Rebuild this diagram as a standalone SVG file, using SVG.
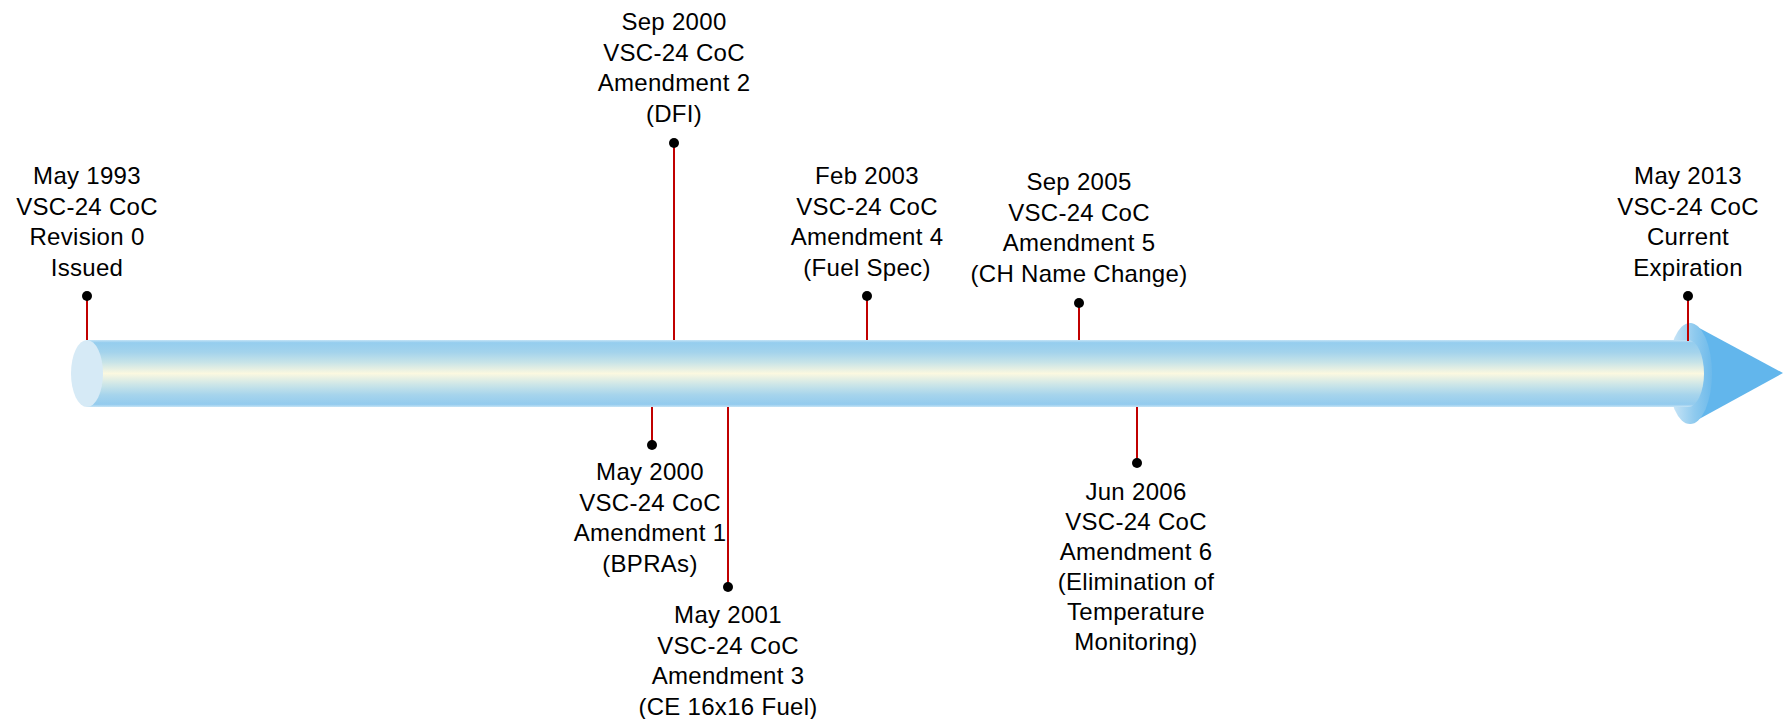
<svg xmlns="http://www.w3.org/2000/svg" width="1783" height="719" viewBox="0 0 1783 719">
<style>
text{font-family:"Liberation Sans",Arial,sans-serif;font-size:24px;letter-spacing:0.3px;fill:#000;text-anchor:middle}
.ln{stroke:#c00000;stroke-width:2;fill:none}
.dot{fill:#000}
</style>
<defs>
<linearGradient id="tube" x1="0" y1="0" x2="0" y2="1">
<stop offset="0" stop-color="#c6e4f6"/>
<stop offset="0.04" stop-color="#95cdee"/>
<stop offset="0.18" stop-color="#a3d3ec"/>
<stop offset="0.33" stop-color="#c6e3e8"/>
<stop offset="0.5" stop-color="#fbf8e0"/>
<stop offset="0.67" stop-color="#cbe5e8"/>
<stop offset="0.82" stop-color="#a6d4ec"/>
<stop offset="0.96" stop-color="#93cbee"/>
<stop offset="1" stop-color="#c6e4f6"/>
</linearGradient>
<linearGradient id="ring" x1="0" y1="0" x2="1" y2="0">
<stop offset="0" stop-color="#d4eaf8"/>
<stop offset="0.6" stop-color="#8fcaee"/>
<stop offset="1" stop-color="#6dbaeb"/>
</linearGradient>
</defs>
<g id="arrow">
<polygon points="1690,323 1783,373 1690,424" fill="#62b6ec"/>
<ellipse cx="1690" cy="373.5" rx="22" ry="50.5" fill="url(#ring)"/>
<rect x="87" y="340" width="1601" height="67" fill="url(#tube)"/>
<ellipse cx="1688" cy="373.5" rx="16" ry="33.5" fill="url(#tube)"/>
<ellipse cx="87" cy="373.5" rx="16" ry="33.5" fill="#d6eaf6"/>
</g>
<g id="connectors">
<line class="ln" x1="87" y1="296" x2="87" y2="340"/>
<line class="ln" x1="674" y1="143" x2="674" y2="340"/>
<line class="ln" x1="867" y1="296" x2="867" y2="340"/>
<line class="ln" x1="1079" y1="303" x2="1079" y2="340"/>
<line class="ln" x1="1688" y1="296" x2="1688" y2="341"/>
<line class="ln" x1="652" y1="407" x2="652" y2="445"/>
<line class="ln" x1="728" y1="407" x2="728" y2="587"/>
<line class="ln" x1="1137" y1="407" x2="1137" y2="463"/>
<circle class="dot" cx="87" cy="296" r="5"/>
<circle class="dot" cx="674" cy="143" r="5"/>
<circle class="dot" cx="867" cy="296" r="5"/>
<circle class="dot" cx="1079" cy="303" r="5"/>
<circle class="dot" cx="1688" cy="296" r="5"/>
<circle class="dot" cx="652" cy="445" r="5"/>
<circle class="dot" cx="728" cy="587" r="5"/>
<circle class="dot" cx="1137" cy="463" r="5"/>
</g>
<g id="n1993">
<text x="87" y="184">May 1993</text>
<text x="87" y="214.5">VSC-24 CoC</text>
<text x="87" y="245">Revision 0</text>
<text x="87" y="275.5">Issued</text>
</g>
<g id="n2000sep">
<text x="674" y="30">Sep 2000</text>
<text x="674" y="60.5">VSC-24 CoC</text>
<text x="674" y="91">Amendment 2</text>
<text x="674" y="121.5">(DFI)</text>
</g>
<g id="n2003">
<text x="867" y="184">Feb 2003</text>
<text x="867" y="214.5">VSC-24 CoC</text>
<text x="867" y="245">Amendment 4</text>
<text x="867" y="275.5">(Fuel Spec)</text>
</g>
<g id="n2005">
<text x="1079" y="190">Sep 2005</text>
<text x="1079" y="220.5">VSC-24 CoC</text>
<text x="1079" y="251">Amendment 5</text>
<text x="1079" y="281.5">(CH Name Change)</text>
</g>
<g id="n2013">
<text x="1688" y="184">May 2013</text>
<text x="1688" y="214.5">VSC-24 CoC</text>
<text x="1688" y="245">Current</text>
<text x="1688" y="275.5">Expiration</text>
</g>
<g id="n2000may">
<text x="650" y="480">May 2000</text>
<text x="650" y="510.5">VSC-24 CoC</text>
<text x="650" y="541">Amendment 1</text>
<text x="650" y="571.5">(BPRAs)</text>
</g>
<g id="n2001">
<text x="728" y="623">May 2001</text>
<text x="728" y="653.5">VSC-24 CoC</text>
<text x="728" y="684">Amendment 3</text>
<text x="728" y="714.5">(CE 16x16 Fuel)</text>
</g>
<g id="n2006">
<text x="1136" y="500">Jun 2006</text>
<text x="1136" y="530">VSC-24 CoC</text>
<text x="1136" y="560">Amendment 6</text>
<text x="1136" y="590">(Elimination of</text>
<text x="1136" y="620">Temperature</text>
<text x="1136" y="650">Monitoring)</text>
</g>
</svg>
